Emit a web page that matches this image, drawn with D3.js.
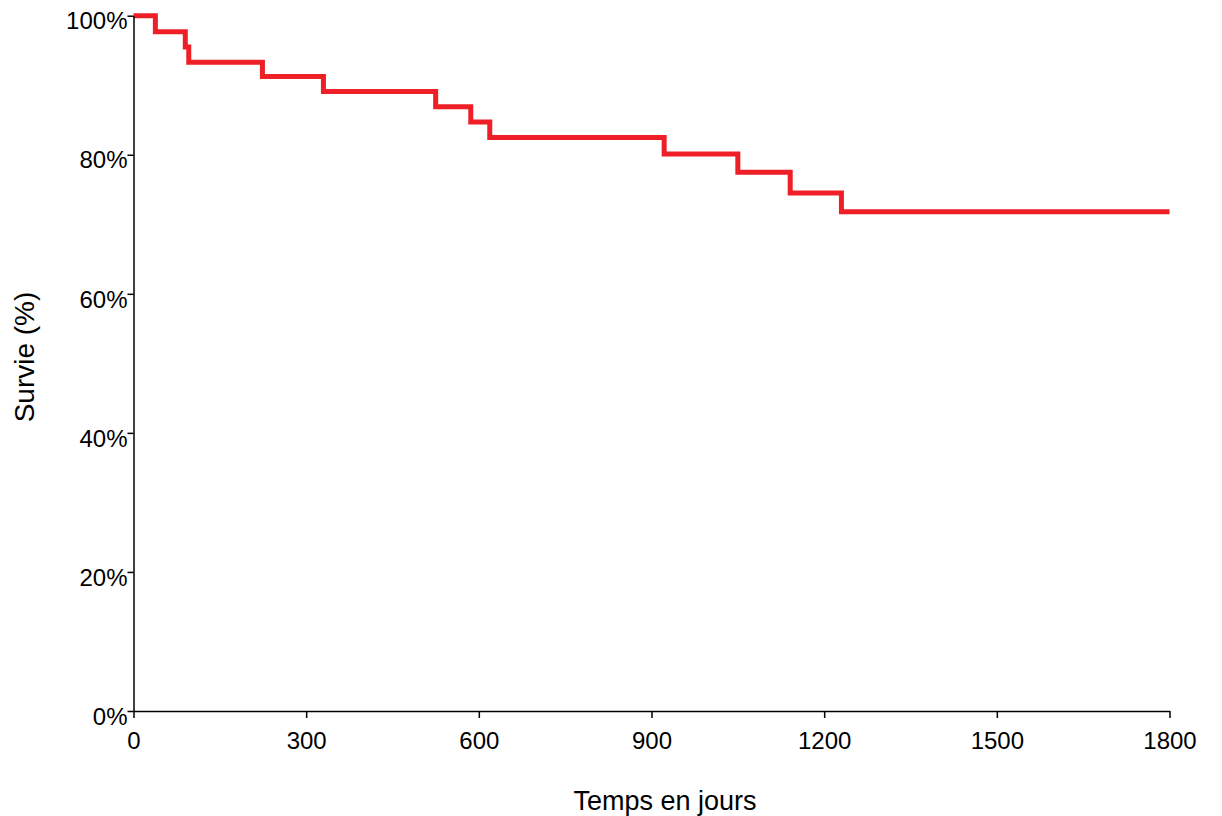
<!DOCTYPE html>
<html>
<head>
<meta charset="utf-8">
<script src="https://cdn.jsdelivr.net/npm/d3@7"></script>
<style>
  body { margin: 0; background: #fff; }
  svg { display: block; }
  text { font-family: "Liberation Sans", Arial, sans-serif; }
</style>
</head>
<body>
<div id="chart"></div>
<script>
// temps (jours) ou la survie change, et la survie apres chaque changement
var times = [0, 38, 90, 96, 224, 330, 525, 586, 619, 922, 1050, 1141, 1230];
var survival = [1.000, 0.977, 0.955, 0.933, 0.9125, 0.891, 0.869, 0.847, 0.825, 0.801, 0.775, 0.745, 0.718];
var endTime = 1800;
var xTicks = [0, 300, 600, 900, 1200, 1500, 1800];
var yTicks = [0, 0.2, 0.4, 0.6, 0.8, 1];

var width = 1222,
height = 816,
margin = {top: 15.7, right: 52.5, bottom: 105, left: 133.5};

var svg = d3.select("#chart")
  .append("svg")
  .attr("width", width)
  .attr("height", height);

var x = d3.scaleLinear()
  .domain([0, 1800])
  .range([margin.left, width - margin.right]);

var y = d3.scaleLinear()
  .domain([0, 1])
  .range([height - margin.bottom, margin.top]);

var data = times.map(function(t, i) { return {t: t, s: survival[i]}; });
data.push({t: endTime, s: survival[survival.length - 1]});

var line = d3.line()
  .curve(d3.curveStepAfter)
  .x(function(d) { return x(d.t); })
  .y(function(d) { return y(d.s); });

svg.append("path")
  .attr("d", line(data))
  .style("fill", "none")
  .style("stroke", "#ee1f26")
  .style("stroke-width", 5)
  .style("stroke-linejoin", "miter")
  .style("stroke-linecap", "butt");

var xAxis = svg.append("g")
  .attr("transform", "translate(0," + (height - margin.bottom) + ")")
  .call(d3.axisBottom(x).tickValues(xTicks).tickSize(7).tickSizeOuter(0).tickPadding(14)
    .tickFormat(d3.format("d")));

var yAxis = svg.append("g")
  .attr("transform", "translate(" + margin.left + ",0)")
  .call(d3.axisLeft(y).tickValues(yTicks).tickSize(6).tickSizeOuter(0).tickPadding(0)
    .tickFormat(function(d) { return Math.round(d * 100) + "%"; }));

svg.selectAll(".domain, .tick line")
  .attr("stroke", "#000")
  .attr("stroke-width", 1.5);

xAxis.selectAll("text")
  .attr("font-size", 24)
  .attr("font-family", "Liberation Sans, Arial, sans-serif")
  .attr("fill", "#000");

yAxis.selectAll("text")
  .attr("font-size", 24)
  .attr("font-family", "Liberation Sans, Arial, sans-serif")
  .attr("fill", "#000")
  .attr("dy", "0.55em");

svg.append("text")
  .attr("x", 665)
  .attr("y", 810)
  .attr("text-anchor", "middle")
  .attr("font-size", 27)
  .attr("fill", "#000")
  .text("Temps en jours");

svg.append("text")
  .attr("transform", "translate(34," + 357 + ") rotate(-90)")
  .attr("text-anchor", "middle")
  .attr("font-size", 28)
  .attr("fill", "#000")
  .text("Survie (%)");
</script>
</body>
</html>
